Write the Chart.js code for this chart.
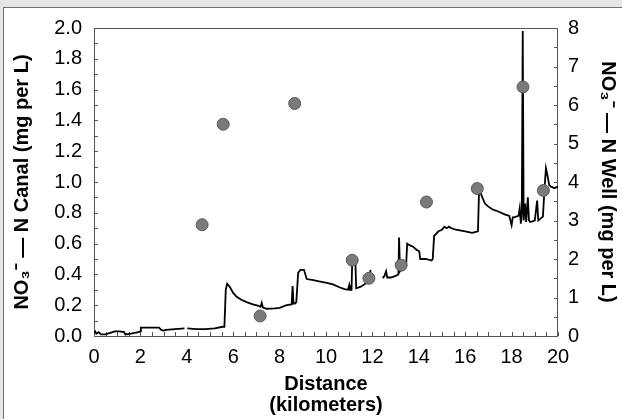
<!DOCTYPE html>
<html>
<head>
<meta charset="utf-8">
<script src="https://cdn.jsdelivr.net/npm/chart.js@4.4.1/dist/chart.umd.min.js"></script>
<style>
    body { margin: 0; background: #e6e6e6; }
    #frame { position: absolute; left: 3px; top: 7px; width: 640px; height: 430px; background: #fff; border-left: 1px solid #6f6f6f; border-top: 1px solid #6f6f6f; }
    #chart { position: absolute; left: 0; top: 0; }
</style>
</head>
<body>
<div id="frame"></div>
<canvas id="chart" width="622" height="419"></canvas>
<script>
// canal trace (distance km, NO3-N mg/L), null = gap in record
var canalKm = [0.00, 0.05, 0.10, 0.20, 0.30, 0.50, 0.70, 0.90, 1.10, 1.30, 1.35, 1.60, 1.90, 2.00, 2.02, 2.50, 2.80, 2.90, 3.00, 3.10, 3.50, 3.90, 3.95,
    4.02, 4.40, 4.80, 5.20, 5.55, 5.62, 5.68, 5.74, 5.85, 6.00, 6.15, 6.35, 6.58, 6.85, 7.10, 7.18, 7.23, 7.28, 7.44, 7.80, 8.00, 8.30, 8.52, 8.56, 8.60, 8.66, 8.72, 8.80, 8.90, 9.05, 9.17, 9.40, 9.70, 10.03, 10.30, 10.60, 10.80, 10.95, 11.00, 11.03, 11.10,
    11.13, 11.20, 11.27, 11.30, 11.50, 11.70, 11.80, 11.88, 11.92, 11.95,
    12.44, 12.52, 12.59, 12.64, 12.80, 13.00, 13.12, 13.15, 13.19, 13.30, 13.45, 13.50, 13.60, 13.75, 13.90, 14.02, 14.06, 14.30, 14.55, 14.60, 14.66, 14.85, 15.00, 15.10, 15.20, 15.30, 15.40, 15.60, 16.00, 16.30, 16.55,
    16.60, 16.70, 16.85, 17.00, 17.20, 17.40, 17.70, 17.90, 18.00, 18.05, 18.10, 18.30, 18.35, 18.40, 18.44, 18.48, 18.52, 18.58, 18.63, 18.70, 18.75, 18.80, 19.00, 19.10, 19.15, 19.35, 19.42, 19.48, 19.55, 19.62, 19.70, 19.85, 20.00];
var canalNO3 = [0.02, 0.03, 0.015, 0.025, 0.01, 0.01, 0.02, 0.03, 0.03, 0.025, 0.01, 0.015, 0.025, 0.03, 0.055, 0.055, 0.055, 0.04, 0.035, 0.04, 0.045, 0.05, null,
    0.05, 0.045, 0.045, 0.05, 0.06, 0.06, 0.30, 0.34, 0.32, 0.28, 0.255, 0.235, 0.22, 0.205, 0.195, 0.19, 0.215, 0.185, 0.177, 0.18, 0.183, 0.20, 0.205, 0.325, 0.21, 0.21, 0.22, 0.41, 0.43, 0.43, 0.37, 0.365, 0.355, 0.345, 0.335, 0.315, 0.305, 0.30, 0.33, 0.30, 0.30,
    0.48, 0.48, 0.47, 0.31, 0.32, 0.34, 0.36, 0.38, 0.43, null,
    0.376, 0.39, 0.42, 0.38, 0.38, 0.39, 0.40, 0.64, 0.42, 0.44, 0.45, 0.60, 0.59, 0.58, 0.56, 0.55, 0.50, 0.50, 0.49, 0.50, 0.65, 0.68, 0.69, 0.71, 0.70, 0.71, 0.70, 0.69, 0.68, 0.67, 0.68,
    0.96, 0.915, 0.86, 0.84, 0.82, 0.81, 0.79, 0.78, 0.72, 0.77, 0.77, 0.78, 0.83, 0.73, 0.80, 1.98, 0.75, 0.86, 0.74, 0.90, 0.75, 0.74, 0.75, 0.88, 0.75, 0.775, 0.96, 1.09, 1.04, 0.98, 0.97, 0.96, 0.97];

// well samples (distance km, NO3-N mg/L)
var wellKm = [4.66, 5.57, 7.16, 8.65, 11.13, 11.85, 13.24, 14.33, 16.52, 18.49, 19.37];
var wellNO3 = [2.89, 5.50, 0.52, 6.04, 1.97, 1.50, 1.84, 3.48, 3.83, 6.47, 3.78];

var canalData = [];
for (i = 0; i < canalKm.length; i++) {
    canalData.push({ x: canalKm[i], y: canalNO3[i] });
}
var wellData = [];
for (i = 0; i < wellKm.length; i++) {
    wellData.push({ x: wellKm[i], y: wellNO3[i] });
}

// frame around plot + ticks pointing inwards
var inwardTicks = {
    id: 'inwardTicks',
    beforeDatasetsDraw: function(chart) {
        var ctx = chart.ctx;
        var a = chart.chartArea;
        ctx.save();
        ctx.strokeStyle = '#555';
        ctx.lineWidth = 1;
        ctx.strokeRect(a.left + 0.5, a.top + 0.5, a.right - a.left - 1, a.bottom - a.top);
        ctx.beginPath();
        var sx = chart.scales.x;
        for (var v = 0; v <= 20.001; v += 0.5) {
            var px = Math.round(sx.getPixelForValue(v)) + 0.5;
            ctx.moveTo(px, a.bottom);
            ctx.lineTo(px, a.bottom - 4);
        }
        var sy = chart.scales.y;
        for (var v = 0; v <= 2.0001; v += 0.1) {
            var py = Math.round(sy.getPixelForValue(v)) + 0.5;
            ctx.moveTo(a.left, py);
            ctx.lineTo(a.left + 4, py);
        }
        var sy1 = chart.scales.y1;
        for (var v = 0; v <= 8.001; v += 0.5) {
            var py = Math.round(sy1.getPixelForValue(v)) + 0.5;
            ctx.moveTo(a.right, py);
            ctx.lineTo(a.right - 4, py);
        }
        ctx.stroke();
        ctx.restore();
    }
};

var tickFont = { family: 'Liberation Sans, Arial, sans-serif', size: 20 };
var titleFont = { family: 'Liberation Sans, Arial, sans-serif', size: 20, weight: 'bold', lineHeight: 1.05 };

var ctx = document.getElementById('chart').getContext('2d');
var myChart = new Chart(ctx, {
    type: 'scatter',
    data: {
        datasets: [{
            label: 'Well',
            data: wellData,
            yAxisID: 'y1',
            pointRadius: 6,
            pointBackgroundColor: '#7a7a7a',
            pointBorderColor: '#5a5a5a',
            pointBorderWidth: 1
        }, {
            label: 'Canal',
            data: canalData,
            yAxisID: 'y',
            showLine: true,
            spanGaps: false,
            pointRadius: 0,
            borderColor: '#000',
            borderWidth: 1.8,
            tension: 0
        }]
    },
    options: {
        responsive: false,
        animation: false,
        layout: { padding: { top: 28 } },
        plugins: {
            legend: { display: false },
            tooltip: { enabled: false }
        },
        scales: {
            x: {
                type: 'linear',
                min: 0,
                max: 20,
                grid: { display: false, drawTicks: false },
                border: { display: false },
                ticks: { stepSize: 2, padding: 9, color: '#000', font: tickFont },
                title: { display: true, text: ['Distance', '(kilometers)'], color: '#000', font: titleFont, padding: { top: 0, bottom: 3 } },
                afterFit: function(s) { s.height = 83; }
            },
            y: {
                position: 'left',
                min: 0,
                max: 2,
                grid: { display: false, drawTicks: false },
                border: { display: false },
                ticks: {
                    stepSize: 0.2, padding: 12, color: '#000', font: tickFont,
                    callback: function(v) { return v.toFixed(1); }
                },
                title: { display: true, text: 'NO\u2083\u207B \u2014 N Canal (mg per L)', color: '#000', font: titleFont, padding: { top: 12, bottom: 0 } },
                afterFit: function(s) { s.width = 94; }
            },
            y1: {
                position: 'right',
                min: 0,
                max: 8,
                grid: { display: false, drawTicks: false },
                border: { display: false },
                ticks: { stepSize: 1, padding: 10, color: '#000', font: tickFont },
                title: { display: true, text: 'NO\u2083\u207B \u2014 N Well (mg per L)', color: '#000', font: titleFont, padding: { top: 4, bottom: 0 } },
                afterFit: function(s) { s.width = 64; }
            }
        }
    },
    plugins: [inwardTicks]
});
</script>
</body>
</html>
